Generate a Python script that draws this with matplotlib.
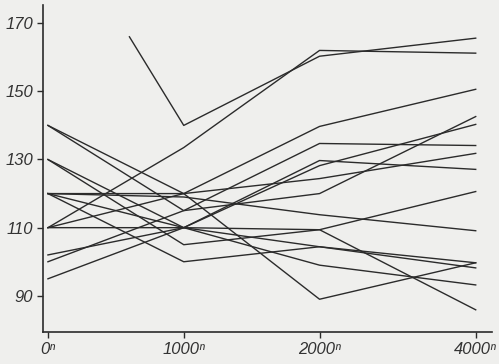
import numpy as np
import matplotlib
matplotlib.use('Agg')
import matplotlib.pyplot as plt

# distances along the route (x) and tick labels
DIST = [0, 1000, 2000, 4000]
x_labels = ['0ⁿ', '1000ⁿ', '2000ⁿ', '4000ⁿ']
y_ticks = [90, 110, 130, 150, 170]

# values of each line at 0, 1000, 2000 and 4000
at_0 = [110, 140, 140, 120, 110, 130, 130, 120, 110, 120, 102, 100, 95, 120]
at_1000 = [133.5, 120, 115, 120, 120, 110, 105, 100, 110, 110, 110, 115, 110, 119]
at_2000 = [162, 89, 134.7, 139.7, 124.4, 129.7, 109.4, 104.4, 109.4, 99, 128.2, 120, 104.4, 113.8]
at_4000 = [161.2, 99.7, 134.1, 150.6, 131.8, 127.1, 120.6, 98.2, 85.9, 93.2, 140.3, 142.6, 99.7, 109.1]

# the one line that starts part way
v_dist = [600, 1000, 2000, 4000]
v_vals = [166, 140, 160.3, 165.6]

# the x axis is drawn unevenly: 2000 -> 4000 is only a bit longer than 1000 steps
LAST = 1.15


def fwd(d):
    d = np.asarray(d, dtype=float)
    return np.where(d <= 2000, d / 1000, 2 + (d - 2000) / 2000 * LAST)


def inv(p):
    p = np.asarray(p, dtype=float)
    return np.where(p <= 2, p * 1000, 2000 + (p - 2) / LAST * 2000)


paper = '#efefed'
ink = '#2b2b2b'

fig = plt.figure(figsize=(4.99, 3.64), dpi=100, facecolor=paper)
ax = fig.add_axes([0.086, 0.088, 0.9, 0.898])
ax.set_facecolor(paper)
ax.set_xscale('function', functions=(fwd, inv))

for row in zip(at_0, at_1000, at_2000, at_4000):
    ax.plot(DIST, row, color=ink, lw=1.0)
ax.plot(v_dist, v_vals, color=ink, lw=1.0)

ax.set_xlim(inv(-0.037), inv(3.27))
ax.set_ylim(79.4, 175.3)

ax.set_xticks(DIST)
ax.set_xticklabels(x_labels)
ax.set_yticks(y_ticks)
ax.minorticks_off()

font = dict(family='Liberation Sans', style='italic', size=12, color='#333333')
for lab in ax.get_xticklabels() + ax.get_yticklabels():
    lab.set(**font)

ax.tick_params(axis='both', direction='out', length=4, width=1, color=ink, pad=3)
ax.spines['top'].set_visible(False)
ax.spines['right'].set_visible(False)
for s in ['left', 'bottom']:
    ax.spines[s].set_color(ink)
    ax.spines[s].set_linewidth(1.2)

fig.savefig('out.png', dpi=100, facecolor=paper)
